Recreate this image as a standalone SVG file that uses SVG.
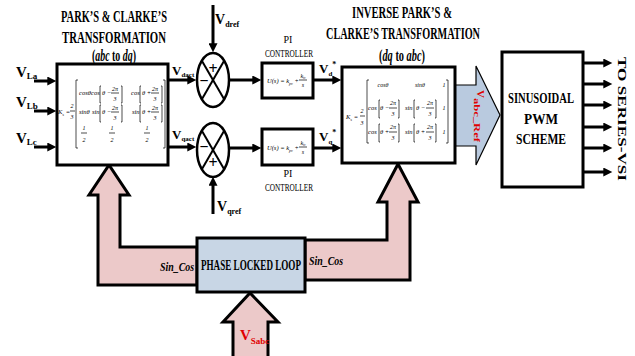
<svg xmlns="http://www.w3.org/2000/svg" width="635" height="356" viewBox="0 0 635 356">
<defs>
<marker id="ah" viewBox="0 0 10 10" markerUnits="userSpaceOnUse" markerWidth="10" markerHeight="9" refX="3" refY="5" orient="auto">
<path d="M0,0 L10,5 L0,10 z" fill="#000"/>
</marker>
<style>
text { font-family: "Liberation Serif", "DejaVu Serif", serif; fill: #000; }
.b { font-weight: bold; }
.ttl { font-weight: bold; font-size: 17px; text-anchor: middle; }
.lbl { font-weight: bold; font-size: 15px; }
.sub { font-size: 9px; }
.m { font-style: italic; font-size: 6.5px; }
.mc { font-style: italic; font-size: 6px; text-anchor: middle; }
.pi { font-size: 10px; text-anchor: middle; }
.box { fill: #fff; stroke: #000; stroke-width: 3; }
.thin { stroke: #000; stroke-width: 0.7; fill: none; }
.wire { stroke: #000; stroke-width: 3; fill: none; marker-end: url(#ah); }
.pink { fill: #ecc9c9; stroke: #000; stroke-width: 3; stroke-linejoin: miter; }
</style>
</defs>
<rect width="635" height="356" fill="#fff"/>

<!-- connectors -->
<g id="connectors">
<polygon class="pink" points="197,285 98,285 98,195 89,195 109,165 129,195 120,195 120,247 197,247"/>
<polygon class="pink" points="305,240 387,240 387,202 378,202 398,164 418,202 410,202 410,280 305,280"/>
<polygon class="pink" points="233,360 233,322 223,322 250,293 278,322 268,322 268,360"/>
<polygon points="455,85 476,85 476,66 500,115 476,165 476,146 455,146" fill="#b9cadf" stroke="#000" stroke-width="1.2"/>
<line class="wire" x1="34" y1="81" x2="50" y2="81"/>
<line class="wire" x1="34" y1="111" x2="50" y2="111"/>
<line class="wire" x1="34" y1="147" x2="50" y2="147"/>
<line class="wire" x1="168" y1="80" x2="190" y2="80"/>
<line class="wire" x1="168" y1="147" x2="190" y2="147"/>
<line class="wire" x1="229" y1="80" x2="255" y2="80"/>
<line class="wire" x1="229" y1="148" x2="255" y2="148"/>
<line class="wire" x1="313" y1="80" x2="335" y2="80"/>
<line class="wire" x1="313" y1="148" x2="335" y2="148"/>
<line class="wire" x1="213" y1="5" x2="213" y2="46"/>
<line class="wire" x1="213" y1="214" x2="213" y2="183"/>
<line class="wire" x1="583" y1="63" x2="606" y2="63"/>
<line class="wire" x1="583" y1="84" x2="606" y2="84"/>
<line class="wire" x1="583" y1="105" x2="606" y2="105"/>
<line class="wire" x1="583" y1="127" x2="606" y2="127"/>
<line class="wire" x1="583" y1="148" x2="606" y2="148"/>
<line class="wire" x1="583" y1="172" x2="606" y2="172"/>
</g>

<!-- labels -->
<g id="labels">
<text class="lbl" x="16" y="77">V<tspan class="sub" dy="2">La</tspan></text>
<text class="lbl" x="16" y="107">V<tspan class="sub" dy="2">Lb</tspan></text>
<text class="lbl" x="16" y="143">V<tspan class="sub" dy="2">Lc</tspan></text>
<text class="b" font-size="13" x="172" y="75">V<tspan font-size="7" dy="2">dact</tspan></text>
<text class="b" font-size="13" x="172" y="139">V<tspan font-size="7" dy="2">qact</tspan></text>
<text class="b" font-size="14" x="215" y="24">V<tspan font-size="8" dy="3">dref</tspan></text>
<text class="b" font-size="14" x="217" y="211">V<tspan font-size="8" dy="3">qref</tspan></text>
<text class="b" font-size="13" x="319" y="73">V<tspan font-size="7" dy="3">d</tspan><tspan font-size="8" dy="-9">*</tspan></text>
<text class="b" font-size="13" x="319" y="141">V<tspan font-size="7" dy="3">q</tspan><tspan font-size="8" dy="-9">*</tspan></text>
<text class="b" font-size="15" x="240" y="340" style="fill:#e00000">V<tspan font-size="9" dy="4" style="fill:#e00000">Sabc</tspan></text>
<text font-size="12" font-style="italic" font-weight="bold" x="160" y="271" textLength="34" lengthAdjust="spacingAndGlyphs">Sin_Cos</text>
<text font-size="12" font-style="italic" font-weight="bold" x="309" y="265" textLength="34" lengthAdjust="spacingAndGlyphs">Sin_Cos</text>
<text class="b" font-size="11" transform="translate(477,90) rotate(90)" style="fill:#e00000">V<tspan font-size="8" dy="3" style="fill:#e00000" textLength="44" lengthAdjust="spacingAndGlyphs">abc_Ref</tspan></text>
<text class="b" font-size="13" transform="translate(618,57) rotate(90)" textLength="124" lengthAdjust="spacingAndGlyphs">TO SERIES-VSI</text>
</g>

<!-- Park's & Clarke's -->
<g id="park">
<text class="ttl" x="114" y="22" textLength="106" lengthAdjust="spacingAndGlyphs">PARK’S &amp; CLARKE’S</text>
<text class="ttl" x="114" y="43" textLength="104" lengthAdjust="spacingAndGlyphs">TRANSFORMATION</text>
<text class="ttl" font-size="15" x="114" y="61" textLength="44" lengthAdjust="spacingAndGlyphs">(<tspan font-style="italic">abc</tspan> to <tspan font-style="italic">dq</tspan>)</text>
<rect class="box" x="57" y="64" width="111" height="101"/>
<text class="m" x="58" y="114">K<tspan font-size="4.5" dy="1.5">s</tspan><tspan dy="-1.5"> =</tspan></text>
<text class="mc" x="72" y="108">2</text><line class="thin" x1="70" y1="111" x2="75" y2="111"/><text class="mc" x="72" y="119">3</text>
<path class="thin" d="M78,80 H76 V148 H78 M163,80 H165 V148 H163"/>
<text class="m" x="79" y="95">cosθ</text>
<text class="m" x="91" y="95">cos</text><path class="thin" d="M101,86 H100 V103 H101 M121,86 H122 V103 H121"/>
<text class="m" x="102" y="95">θ −</text>
<text class="mc" x="115" y="91">2π</text><line class="thin" x1="111" y1="93" x2="119" y2="93"/><text class="mc" x="115" y="101">3</text>
<text class="m" x="131" y="95">cos</text><path class="thin" d="M141,86 H140 V103 H141 M161,86 H162 V103 H161"/>
<text class="m" x="142" y="95">θ +</text>
<text class="mc" x="155" y="91">2π</text><line class="thin" x1="151" y1="93" x2="159" y2="93"/><text class="mc" x="155" y="101">3</text>
<text class="m" x="79" y="114">sinθ</text>
<text class="m" x="92" y="114">sin</text><path class="thin" d="M101,105 H100 V122 H101 M121,105 H122 V122 H121"/>
<text class="m" x="102" y="114">θ −</text>
<text class="mc" x="115" y="110">2π</text><line class="thin" x1="111" y1="112" x2="119" y2="112"/><text class="mc" x="115" y="120">3</text>
<text class="m" x="132" y="114">sin</text><path class="thin" d="M141,105 H140 V122 H141 M161,105 H162 V122 H161"/>
<text class="m" x="142" y="114">θ +</text>
<text class="mc" x="155" y="110">2π</text><line class="thin" x1="151" y1="112" x2="159" y2="112"/><text class="mc" x="155" y="120">3</text>
<text class="mc" x="84" y="130">1</text><line class="thin" x1="81" y1="133" x2="87" y2="133"/><text class="mc" x="84" y="142">2</text>
<text class="mc" x="112" y="130">1</text><line class="thin" x1="109" y1="133" x2="115" y2="133"/><text class="mc" x="112" y="142">2</text>
<text class="mc" x="147" y="130">1</text><line class="thin" x1="144" y1="133" x2="150" y2="133"/><text class="mc" x="147" y="142">2</text>
</g>

<!-- summing junctions -->
<g id="sum_d">
<ellipse cx="213" cy="80" rx="16" ry="27" fill="#fff" stroke="#000" stroke-width="2.5"/>
<line x1="202" y1="61" x2="224" y2="99" stroke="#000" stroke-width="2"/>
<line x1="224" y1="61" x2="202" y2="99" stroke="#000" stroke-width="2"/>
<text class="b" font-size="16" x="213" y="74" text-anchor="middle">+</text>
<text class="b" font-size="16" x="204" y="86" text-anchor="middle">−</text>
</g>
<g id="sum_q">
<ellipse cx="213" cy="150" rx="16" ry="27" fill="#fff" stroke="#000" stroke-width="2.5"/>
<line x1="202" y1="131" x2="224" y2="169" stroke="#000" stroke-width="2"/>
<line x1="224" y1="131" x2="202" y2="169" stroke="#000" stroke-width="2"/>
<text class="b" font-size="16" x="204" y="152" text-anchor="middle">−</text>
<text class="b" font-size="16" x="213" y="168" text-anchor="middle">+</text>
</g>

<!-- PI controllers -->
<g id="pi_d">
<text class="pi" x="288" y="43">PI</text>
<text class="pi" x="289" y="57" textLength="48" lengthAdjust="spacingAndGlyphs">CONTROLLER</text>
<rect class="box" x="262" y="63" width="51" height="35"/>
<text class="m" font-size="5.5" x="267" y="83">U(s) = k<tspan font-size="4" dy="1.5">pv</tspan><tspan dy="-1.5"> +</tspan></text>
<text class="mc" font-size="5" x="303" y="78">k<tspan font-size="3.5" dy="1">iv</tspan></text><line class="thin" x1="299" y1="80" x2="307" y2="80" stroke-width="0.5"/><text class="mc" font-size="5.5" x="303" y="87">s</text>
</g>
<g id="pi_q">
<rect class="box" x="262" y="129" width="51" height="36"/>
<text class="m" font-size="5.5" x="267" y="150">U(s) = k<tspan font-size="4" dy="1.5">pv</tspan><tspan dy="-1.5"> +</tspan></text>
<text class="mc" font-size="5" x="303" y="145">k<tspan font-size="3.5" dy="1">iv</tspan></text><line class="thin" x1="299" y1="147" x2="307" y2="147" stroke-width="0.5"/><text class="mc" font-size="5.5" x="303" y="154">s</text>
<text class="pi" x="288" y="177">PI</text>
<text class="pi" x="289" y="191" textLength="48" lengthAdjust="spacingAndGlyphs">CONTROLLER</text>
</g>

<!-- Inverse Park's & Clarke's -->
<g id="inverse">
<text class="ttl" x="402" y="18" textLength="100" lengthAdjust="spacingAndGlyphs">INVERSE PARK’S &amp;</text>
<text class="ttl" x="403" y="39" textLength="154" lengthAdjust="spacingAndGlyphs">CLARKE’S TRANSFORMATION</text>
<text class="ttl" font-size="15" x="402" y="61" textLength="46" lengthAdjust="spacingAndGlyphs">(<tspan font-style="italic">dq</tspan> to <tspan font-style="italic">abc</tspan>)</text>
<rect class="box" x="342" y="67" width="113" height="96"/>
<text class="m" x="346" y="119">K<tspan font-size="4.5" dy="1.5">s</tspan><tspan dy="-1.5"> =</tspan></text>
<text class="mc" x="362" y="113">2</text><line class="thin" x1="360" y1="116" x2="365" y2="116"/><text class="mc" x="362" y="125">3</text>
<path class="thin" d="M369,80 H367 V143 H369 M446,80 H448 V143 H446"/>
<text class="mc" x="383" y="87">cosθ</text>
<text class="mc" x="420" y="87">sinθ</text>
<text class="mc" x="444" y="87">1</text>
<text class="m" x="368" y="110">cos</text><path class="thin" d="M380,100 H379 V118 H380 M398,100 H399 V118 H398"/>
<text class="m" x="380" y="110">θ −</text>
<text class="mc" x="393" y="105">2π</text><line class="thin" x1="389" y1="108" x2="397" y2="108"/><text class="mc" x="393" y="116">3</text>
<text class="m" x="405" y="110">sin</text><path class="thin" d="M415,100 H414 V118 H415 M435,100 H436 V118 H435"/>
<text class="m" x="416" y="110">θ −</text>
<text class="mc" x="430" y="105">2π</text><line class="thin" x1="426" y1="108" x2="434" y2="108"/><text class="mc" x="430" y="116">3</text>
<text class="mc" x="444" y="110">1</text>
<text class="m" x="368" y="134">cos</text><path class="thin" d="M380,124 H379 V142 H380 M398,124 H399 V142 H398"/>
<text class="m" x="380" y="134">θ +</text>
<text class="mc" x="393" y="129">2π</text><line class="thin" x1="389" y1="132" x2="397" y2="132"/><text class="mc" x="393" y="140">3</text>
<text class="m" x="405" y="134">sin</text><path class="thin" d="M415,124 H414 V142 H415 M435,124 H436 V142 H435"/>
<text class="m" x="416" y="134">θ +</text>
<text class="mc" x="430" y="129">2π</text><line class="thin" x1="426" y1="132" x2="434" y2="132"/><text class="mc" x="430" y="140">3</text>
<text class="mc" x="444" y="134">1</text>
</g>

<!-- SPWM -->
<g id="spwm">
<rect class="box" x="502" y="52" width="81" height="135"/>
<text class="b" font-size="15" x="541" y="103" text-anchor="middle" textLength="66" lengthAdjust="spacingAndGlyphs">SINUSOIDAL</text>
<text class="b" font-size="15" x="541" y="124" text-anchor="middle" textLength="34" lengthAdjust="spacingAndGlyphs">PWM</text>
<text class="b" font-size="15" x="541" y="144" text-anchor="middle" textLength="50" lengthAdjust="spacingAndGlyphs">SCHEME</text>
</g>

<!-- PLL -->
<g id="pll">
<rect x="197" y="238" width="108" height="54" fill="#c8d6e5" stroke="#000" stroke-width="3"/>
<text class="b" font-size="14" x="251" y="270" text-anchor="middle" textLength="100" lengthAdjust="spacingAndGlyphs">PHASE LOCKED LOOP</text>
</g>
</svg>
